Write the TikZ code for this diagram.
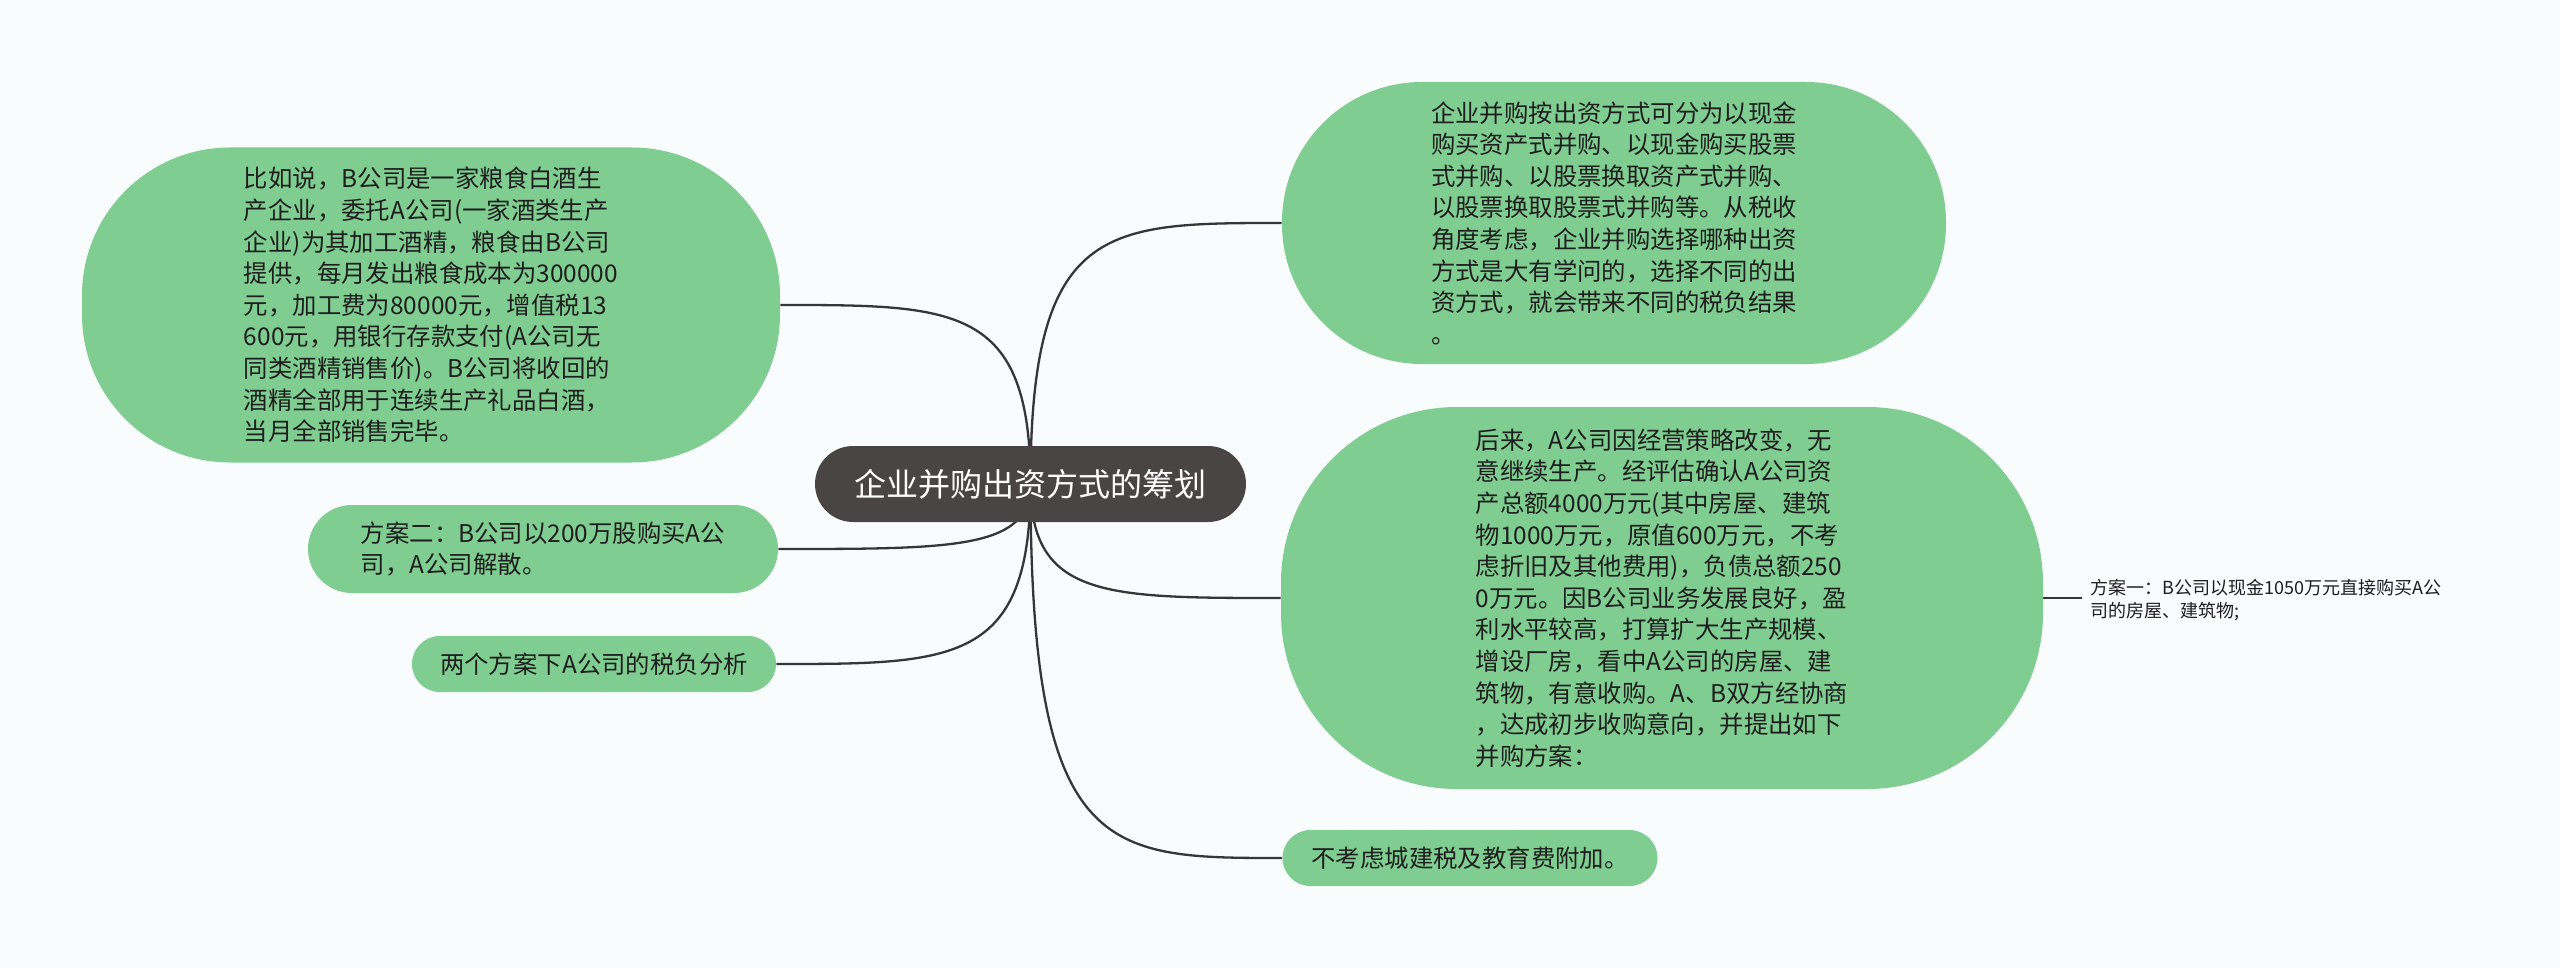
\documentclass[tikz,border=0pt]{standalone}
\usepackage{fontspec}
\setmainfont{Noto Sans CJK SC}
\usetikzlibrary{calc}
\definecolor{bg}{HTML}{F8FCFD}
\definecolor{leaf}{HTML}{80CD91}
\definecolor{rootc}{HTML}{4A4545}
\definecolor{ink}{HTML}{1E1E1E}
\definecolor{wire}{HTML}{363636}
\pgfdeclarelayer{background}
\pgfsetlayers{background,main}
\tikzset{
  topic/.style={fill=leaf, text=ink, align=left, inner sep=0pt,
    font=\fontsize{12.2pt}{15.8pt}\selectfont},
  roottopic/.style={fill=rootc, text=white, inner sep=0pt,
    minimum width=215.5pt, minimum height=38pt, rounded corners=19pt,
    font=\fontsize{16pt}{19pt}\selectfont},
  plainlabel/.style={text=ink, align=left, inner xsep=4pt, inner ysep=0pt,
    font=\fontsize{9pt}{11.5pt}\selectfont},
  conn/.style={draw=wire, line width=1.15pt},
}
\newcommand\mmlink[2]{%
  \draw[conn] let \p1=(#1), \p2=(#2) in
    (\p1) .. controls (\x1,\y2) and ($(\x1,\y2)!0.3!(\x2,\y2)$) .. (\p2);}
\begin{document}
\begin{tikzpicture}[x={(0.5pt,0)}, y={(0,-0.5pt)}]
\begin{pgfonlayer}{background}
\fill[bg] (0,0) rectangle (2560,968);
\end{pgfonlayer}
\useasboundingbox (0,0) rectangle (2560,968);

\node[roottopic] (root) at (1030.5,484) {企业并购出资方式的筹划};

\node[topic, minimum width=349pt, minimum height=157.5pt, rounded corners=74pt] (L1) at (431,305) {比如说，B公司是一家粮食白酒生\\
产企业，委托A公司(一家酒类生产\\
企业)为其加工酒精，粮食由B公司\\
提供，每月发出粮食成本为300000\\
元，加工费为80000元，增值税13\\
600元，用银行存款支付(A公司无\\
同类酒精销售价)。B公司将收回的\\
酒精全部用于连续生产礼品白酒，\\
当月全部销售完毕。};

\node[topic, minimum width=235pt, minimum height=44pt, rounded corners=22pt] (L2) at (543,549) {方案二：B公司以200万股购买A公\\
司，A公司解散。};

\node[topic, minimum width=182pt, minimum height=28pt, rounded corners=14pt] (L3) at (594,664) {两个方案下A公司的税负分析};

\node[topic, minimum width=332pt, minimum height=141pt, rounded corners=70pt] (R1) at (1614,223) {企业并购按出资方式可分为以现金\\
购买资产式并购、以现金购买股票\\
式并购、以股票换取资产式并购、\\
以股票换取股票式并购等。从税收\\
角度考虑，企业并购选择哪种出资\\
方式是大有学问的，选择不同的出\\
资方式，就会带来不同的税负结果\\
。};

\node[topic, minimum width=381pt, minimum height=191pt, rounded corners=88pt] (R2) at (1662,598) {后来，A公司因经营策略改变，无\\
意继续生产。经评估确认A公司资\\
产总额4000万元(其中房屋、建筑\\
物1000万元，原值600万元，不考\\
虑折旧及其他费用)，负债总额250\\
0万元。因B公司业务发展良好，盈\\
利水平较高，打算扩大生产规模、\\
增设厂房，看中A公司的房屋、建\\
筑物，有意收购。A、B双方经协商\\
，达成初步收购意向，并提出如下\\
并购方案：};

\node[plainlabel, anchor=west] (R3) at (2082,600) {方案一：B公司以现金1050万元直接购买A公\\
司的房屋、建筑物;};

\node[topic, minimum width=187.5pt, minimum height=28pt, rounded corners=14pt] (R4) at (1470,858) {不考虑城建税及教育费附加。};

\begin{pgfonlayer}{background}
\mmlink{root.center}{R1.west}
\mmlink{root.center}{R2.west}
\mmlink{root.center}{R4.west}
\mmlink{root.center}{L1.east}
\mmlink{root.center}{L2.east}
\mmlink{root.center}{L3.east}
\draw[conn] (R2.east) -- (R2.east -| R3.west);
\end{pgfonlayer}
\end{tikzpicture}
\end{document}
